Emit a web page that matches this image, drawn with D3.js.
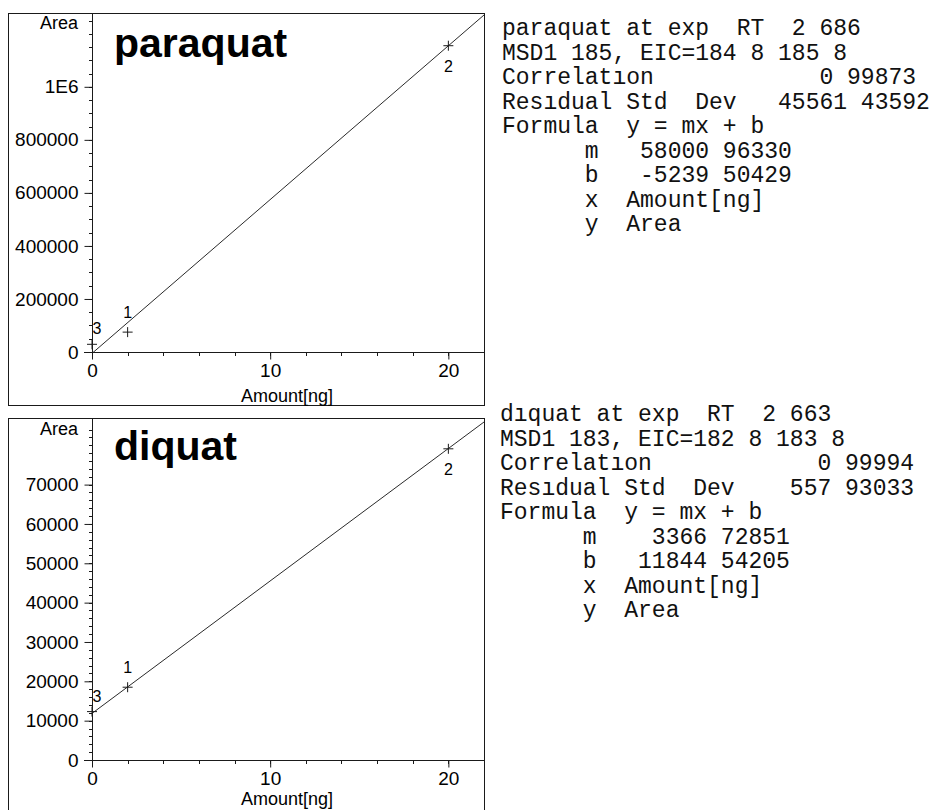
<!DOCTYPE html>
<html>
<head>
<meta charset="utf-8">
<script src="https://cdn.jsdelivr.net/npm/d3@7"></script>
<style>
  body { margin: 0; background: #fff; }
  text.info { white-space: pre; }
</style>
</head>
<body>
<div id="chart"></div>
<script>
// calibration data
var levels = ["1", "2", "3"];
var amounts = [2, 20, 0];
var xTicks = [0, 10, 20];

var paraquatArea = [75000, 1155000, 29000];
var paraquatYTicks = [0, 200000, 400000, 600000, 800000, 1000000];
var paraquatYLabels = ["0", "200000", "400000", "600000", "800000", "1E6"];
var paraquatFit = [58000.96330, -5239.50429];   // m, b
var paraquatInfo = [
  "paraquat at exp  RT  2 686",
  "MSD1 185, EIC=184 8 185 8",
  "Correlatıon            0 99873",
  "Resıdual Std  Dev   45561 43592",
  "Formula  y = mx + b",
  "      m   58000 96330",
  "      b   -5239 50429",
  "      x  Amount[ng]",
  "      y  Area"
];

var diquatArea = [18500, 79100, 12300];
var diquatYTicks = [0, 10000, 20000, 30000, 40000, 50000, 60000, 70000];
var diquatYLabels = ["0", "10000", "20000", "30000", "40000", "50000", "60000", "70000"];
var diquatFit = [3366.72851, 11844.54205];
var diquatInfo = [
  "dıquat at exp  RT  2 663",
  "MSD1 183, EIC=182 8 183 8",
  "Correlatıon            0 99994",
  "Resıdual Std  Dev    557 93033",
  "Formula  y = mx + b",
  "      m    3366 72851",
  "      b   11844 54205",
  "      x  Amount[ng]",
  "      y  Area"
];

var W = 936, H = 810;
var svg = d3.select("#chart").append("svg").attr("width", W).attr("height", H);

var xMax = 22;
var ink = "#1a1a1a";
var sans = "'Liberation Sans', Arial, sans-serif";

function drawPanel(name, area, yTicks, yLabels, fit, info, minorStep, lay) {
  var g = svg.append("g");
  var yMax = fit[0] * xMax + fit[1];

  var x = d3.scaleLinear().domain([0, xMax]).range([92, 484]);
  var y = d3.scaleLinear().domain([0, yMax]).range([lay.axisY, lay.plotTop]);

  // outer frame
  g.append("rect")
    .attr("x", 8.5).attr("y", lay.frameTop + 0.5)
    .attr("width", 476).attr("height", lay.frameBottom - lay.frameTop)
    .attr("fill", "none").attr("stroke", ink).attr("stroke-width", 1);

  // y axis
  var yAxis = d3.axisLeft(y).tickValues(yTicks).tickSize(8)
    .tickFormat(function(d, i) { return yLabels[i]; });
  var ya = g.append("g").attr("transform", "translate(92.5,0)").call(yAxis);
  ya.select(".domain").remove();
  ya.selectAll("line").attr("stroke", ink);
  ya.selectAll("text").attr("x", -14)
    .style("font", "19px " + sans).attr("fill", "#000");

  // minor y ticks
  g.append("g").selectAll("line")
    .data(d3.range(0, yMax, minorStep))
    .enter().append("line")
      .attr("x1", 89).attr("x2", 93)
      .attr("y1", function(d) { return Math.round(y(d)) + 0.5; })
      .attr("y2", function(d) { return Math.round(y(d)) + 0.5; })
      .attr("stroke", ink);

  g.append("line")
    .attr("x1", 92.5).attr("x2", 92.5)
    .attr("y1", lay.frameTop).attr("y2", lay.axisY + 6)
    .attr("stroke", ink);

  // x axis
  var xAxis = d3.axisBottom(x).tickValues(xTicks).tickSize(7).tickFormat(d3.format("d"));
  var xa = g.append("g").attr("transform", "translate(0," + (lay.axisY + 0.5) + ")").call(xAxis);
  xa.select(".domain").remove();
  xa.selectAll("line").attr("stroke", ink);
  xa.selectAll("text").attr("y", 11)
    .style("font", "19px " + sans).attr("fill", "#000");

  g.append("g").selectAll("line")
    .data(d3.range(0, xMax + 0.1, 2))
    .enter().append("line")
      .attr("x1", function(d) { return Math.round(x(d)) + 0.5; })
      .attr("x2", function(d) { return Math.round(x(d)) + 0.5; })
      .attr("y1", lay.axisY).attr("y2", lay.axisY + 4)
      .attr("stroke", ink);

  g.append("line")
    .attr("x1", 84).attr("x2", 484)
    .attr("y1", lay.axisY + 0.5).attr("y2", lay.axisY + 0.5)
    .attr("stroke", ink);

  g.append("text")
    .attr("x", 287).attr("y", lay.axisY + lay.xTitleDy)
    .attr("text-anchor", "middle")
    .style("font", "18px " + sans)
    .text("Amount[ng]");

  g.append("text")
    .attr("x", 78).attr("y", lay.areaY)
    .attr("text-anchor", "end")
    .style("font", "18px " + sans)
    .text("Area");

  // big compound name
  g.append("text")
    .attr("x", 114).attr("y", lay.titleY)
    .style("font", "bold 41px " + sans)
    .text(name);

  // regression line, clipped at the plot edges
  var clipId = "clip-" + name;
  svg.append("clipPath").attr("id", clipId).append("rect")
    .attr("x", 92).attr("y", lay.plotTop - 1)
    .attr("width", 393).attr("height", lay.axisY - lay.plotTop + 1);

  var line = d3.line()
    .x(function(d) { return x(d); })
    .y(function(d) { return y(fit[0] * d + fit[1]); });

  g.append("path")
    .datum([0, xMax])
    .attr("d", line)
    .attr("clip-path", "url(#" + clipId + ")")
    .attr("fill", "none").attr("stroke", "#2a2a2a").attr("stroke-width", 1);

  // calibration points as crosses
  var pts = amounts.map(function(a, i) { return { x: a, y: area[i], lev: levels[i] }; });
  var labelDy = { "1": -14, "2": 26, "3": -10 };
  var labelDx = { "1": 0, "2": 0, "3": 5 };

  var pt = g.append("g").selectAll("g")
    .data(pts)
    .enter().append("g")
      .attr("transform", function(d) { return "translate(" + x(d.x) + "," + y(d.y) + ")"; });

  pt.append("path")
    .attr("d", "M-5,0H5M0,-5V5")
    .attr("stroke", ink).attr("stroke-width", 1);

  pt.append("text")
    .attr("x", function(d) { return labelDx[d.lev]; })
    .attr("y", function(d) { return labelDy[d.lev]; })
    .attr("text-anchor", "middle")
    .style("font", "16px " + sans)
    .text(function(d) { return d.lev; });

  // report text on the right
  g.append("g").selectAll("text")
    .data(info)
    .enter().append("text")
      .attr("class", "info")
      .attr("x", lay.infoX)
      .attr("y", function(d, i) { return lay.infoY + i * 24.5; })
      .style("font", "23px 'Liberation Mono', 'Courier New', monospace")
      .attr("fill", "#111")
      .text(function(d) { return d; });
}

drawPanel("paraquat", paraquatArea, paraquatYTicks, paraquatYLabels, paraquatFit, paraquatInfo, 50000,
  { frameTop: 13, frameBottom: 405, plotTop: 15, axisY: 352, titleY: 57, areaY: 29, xTitleDy: 50,
    infoX: 502, infoY: 35 });

drawPanel("diquat", diquatArea, diquatYTicks, diquatYLabels, diquatFit, diquatInfo, 2000,
  { frameTop: 418, frameBottom: 820, plotTop: 422, axisY: 760, titleY: 460, areaY: 435, xTitleDy: 45,
    infoX: 500, infoY: 421 });
</script>
</body>
</html>
